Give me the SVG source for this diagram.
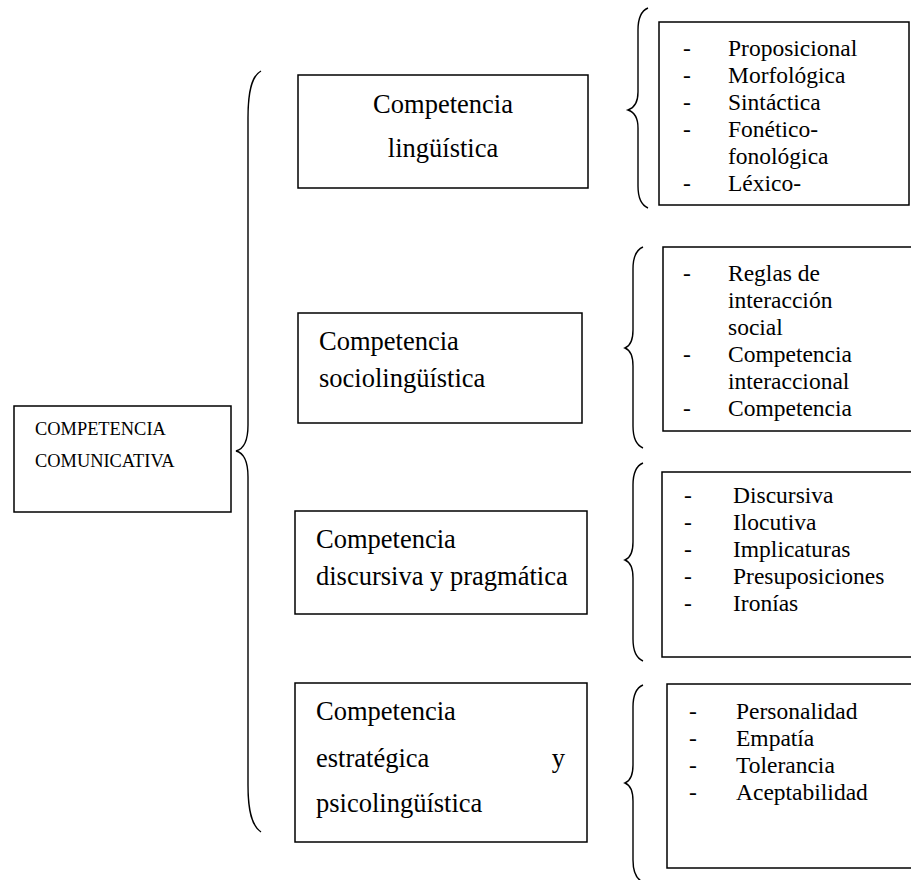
<svg xmlns="http://www.w3.org/2000/svg" width="911" height="880" viewBox="0 0 911 880">
<style>
.box{fill:#fff;stroke:#000;stroke-width:1.5}
.br{fill:none;stroke:#000;stroke-width:1.4}
.lbl{font-family:"Liberation Serif","Times New Roman",serif;font-size:26.5px;fill:#000}
.cap{font-family:"Liberation Serif","Times New Roman",serif;font-size:18.4px;fill:#000}
.it{font-family:"Liberation Serif","Times New Roman",serif;font-size:23.5px;fill:#000}
</style>
<rect width="911" height="880" fill="#fff"/>
<g id="connectors">
<path class="br" d="M261,71 C252,76 248,90 248,118 L248,425 C248,440 244,449 236,451 C244,453 248,462 248,477 L248,785 C248,812 252,826 261,832"/>
<path class="br" d="M648,8 C641,11 638,18 638,30 L638,92 C638,102 634,108 628,110 C634,112 638,118 638,128 L638,186 C638,198 641,205 648,208"/>
<path class="br" d="M643,247 C636,250 633,257 633,269 L633,330 C633,340 630,346 625,348 C630,350 633,356 633,366 L633,426 C633,438 636,445 643,448"/>
<path class="br" d="M643,463 C636,466 633,473 633,485 L633,542 C633,552 630,558 625,560 C630,562 633,568 633,578 L633,639 C633,651 636,658 643,661"/>
<path class="br" d="M643,685 C636,688 633,695 633,707 L633,765 C633,775 630,781 625,783 C630,785 633,791 633,801 L633,860 C633,872 636,879 643,882"/>
</g>
<g id="root">
<rect class="box" x="14" y="406" width="217" height="106"/>
<text class="cap" x="35" y="435">COMPETENCIA</text>
<text class="cap" x="35" y="467">COMUNICATIVA</text>
</g>
<g id="linguistica">
<rect class="box" x="298" y="75" width="290" height="113"/>
<text class="lbl" x="443" y="113" text-anchor="middle">Competencia</text>
<text class="lbl" x="443" y="157" text-anchor="middle">lingüística</text>
</g>
<g id="sociolinguistica">
<rect class="box" x="298" y="313" width="284" height="110"/>
<text class="lbl" x="319" y="350">Competencia</text>
<text class="lbl" x="319" y="387">sociolingüística</text>
</g>
<g id="discursiva">
<rect class="box" x="295" y="511" width="292" height="103"/>
<text class="lbl" x="316" y="548">Competencia</text>
<text class="lbl" x="316" y="585">discursiva y pragmática</text>
</g>
<g id="estrategica">
<rect class="box" x="295" y="683" width="292" height="159"/>
<text class="lbl" x="316" y="720">Competencia</text>
<text class="lbl" x="316" y="767">estratégica</text>
<text class="lbl" x="565" y="767" text-anchor="end">y</text>
<text class="lbl" x="316" y="812">psicolingüística</text>
</g>
<g id="list-linguistica">
<rect class="box" x="659" y="22" width="250" height="183"/>
<text class="it" x="683" y="56">-</text><text class="it" x="728" y="56">Proposicional</text>
<text class="it" x="683" y="83">-</text><text class="it" x="728" y="83">Morfológica</text>
<text class="it" x="683" y="110">-</text><text class="it" x="728" y="110">Sintáctica</text>
<text class="it" x="683" y="137">-</text><text class="it" x="728" y="137">Fonético-</text>
<text class="it" x="728" y="164">fonológica</text>
<text class="it" x="683" y="191">-</text><text class="it" x="728" y="191">Léxico-</text>
</g>
<g id="list-socio">
<rect class="box" x="663" y="247" width="260" height="184"/>
<text class="it" x="683" y="281">-</text><text class="it" x="728" y="281">Reglas de</text>
<text class="it" x="728" y="308">interacción</text>
<text class="it" x="728" y="335">social</text>
<text class="it" x="683" y="362">-</text><text class="it" x="728" y="362">Competencia</text>
<text class="it" x="728" y="389">interaccional</text>
<text class="it" x="683" y="416">-</text><text class="it" x="728" y="416">Competencia</text>
</g>
<g id="list-discursiva">
<rect class="box" x="662" y="472" width="260" height="185"/>
<text class="it" x="684" y="503">-</text><text class="it" x="733" y="503">Discursiva</text>
<text class="it" x="684" y="530">-</text><text class="it" x="733" y="530">Ilocutiva</text>
<text class="it" x="684" y="557">-</text><text class="it" x="733" y="557">Implicaturas</text>
<text class="it" x="684" y="584">-</text><text class="it" x="733" y="584">Presuposiciones</text>
<text class="it" x="684" y="611">-</text><text class="it" x="733" y="611">Ironías</text>
</g>
<g id="list-estrategica">
<rect class="box" x="667" y="684" width="260" height="184"/>
<text class="it" x="689" y="719">-</text><text class="it" x="736" y="719">Personalidad</text>
<text class="it" x="689" y="746">-</text><text class="it" x="736" y="746">Empatía</text>
<text class="it" x="689" y="773">-</text><text class="it" x="736" y="773">Tolerancia</text>
<text class="it" x="689" y="800">-</text><text class="it" x="736" y="800">Aceptabilidad</text>
</g>
</svg>
